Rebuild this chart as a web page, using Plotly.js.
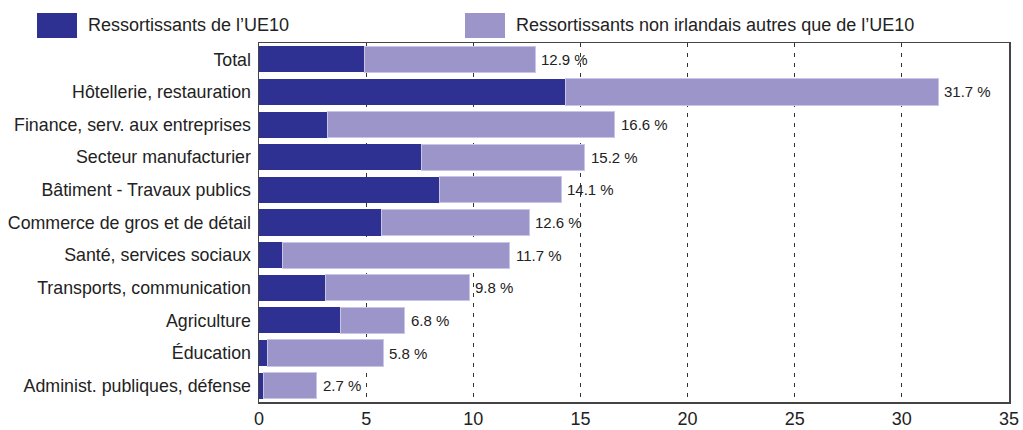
<!DOCTYPE html>
<html>
<head>
<meta charset="utf-8">
<script src="https://cdn.plot.ly/plotly-3.0.1.min.js"></script>
<style>html,body{margin:0;padding:0;background:#fff}#chart{width:1023px;height:430px}</style>
</head>
<body>
<div id="chart"></div>
<script>
const categories = [
  "Total",
  "Hôtellerie, restauration",
  "Finance, serv. aux entreprises",
  "Secteur manufacturier",
  "Bâtiment - Travaux publics",
  "Commerce de gros et de détail",
  "Santé, services sociaux",
  "Transports, communication",
  "Agriculture",
  "Éducation",
  "Administ. publiques, défense"
];
const eu10 = [4.9, 14.3, 3.2, 7.6, 8.4, 5.7, 1.1, 3.1, 3.8, 0.4, 0.2];
const otherNonIrish = [8.0, 17.4, 13.4, 7.6, 5.7, 6.9, 10.6, 6.7, 3.0, 5.4, 2.5];
const totals = [12.9, 31.7, 16.6, 15.2, 14.1, 12.6, 11.7, 9.8, 6.8, 5.8, 2.7];
const totalLabels = ["12.9 %", "31.7 %", "16.6 %", "15.2 %", "14.1 %", "12.6 %", "11.7 %", "9.8 %", "6.8 %", "5.8 %", "2.7 %"];
const seriesNames = ["Ressortissants de l’UE10", "Ressortissants non irlandais autres que de l’UE10"];
const xTicks = [0, 5, 10, 15, 20, 25, 30, 35];

const darkColor = "#2e3192";
const lightColor = "#9b95c9";
const font = "Liberation Sans, Arial, Helvetica, sans-serif";

const traces = [
  {type: "bar", orientation: "h", name: seriesNames[0], y: categories, x: eu10,
   marker: {color: darkColor}, width: 0.8, hoverinfo: "x+y"},
  {type: "bar", orientation: "h", name: seriesNames[1], y: categories, x: otherNonIrish,
   marker: {color: lightColor, line: {color: "#c9c5e6", width: 1}}, width: 0.8, hoverinfo: "x+y"}
];

const valueAnnotations = categories.map((c, i) => ({
  xref: "x", yref: "y", x: totals[i], y: c, text: totalLabels[i],
  xanchor: "left", yanchor: "middle", xshift: 4, showarrow: false,
  font: {family: font, size: 15, color: "#222"}
}));

const layout = {
  width: 1023, height: 430,
  margin: {l: 259, r: 14, t: 43, b: 28},
  barmode: "stack",
  showlegend: false,
  paper_bgcolor: "#fff", plot_bgcolor: "#fff",
  font: {family: font, color: "#222"},
  xaxis: {
    range: [0, 35], tickvals: xTicks, ticktext: xTicks.map(String),
    showgrid: true, gridcolor: "#333", griddash: "4px,6px", gridwidth: 1,
    zeroline: false, showline: true, linecolor: "#444", linewidth: 1.5, mirror: true,
    ticks: "", tickfont: {family: font, size: 18, color: "#222"}, fixedrange: true
  },
  yaxis: {
    autorange: "reversed", showgrid: false, zeroline: false,
    showline: true, linecolor: "#444", linewidth: 1.5, mirror: true,
    ticks: "", ticklabelstandoff: 3, tickfont: {family: font, size: 17.8, color: "#222"}, fixedrange: true
  },
  shapes: [
    {type: "rect", xref: "paper", yref: "paper", x0: -222/750, x1: -182/750, y0: 1 + 5/359, y1: 1 + 30/359,
     fillcolor: darkColor, line: {width: 0}},
    {type: "rect", xref: "paper", yref: "paper", x0: 206/750, x1: 246/750, y0: 1 + 5/359, y1: 1 + 30/359,
     fillcolor: lightColor, line: {width: 0}}
  ],
  annotations: [
    {xref: "paper", yref: "paper", x: -173/750, y: 1 + 18/359, xanchor: "left", yanchor: "middle",
     text: seriesNames[0], showarrow: false, font: {family: font, size: 18, color: "#222"}},
    {xref: "paper", yref: "paper", x: 255/750, y: 1 + 18/359, xanchor: "left", yanchor: "middle",
     text: seriesNames[1], showarrow: false, font: {family: font, size: 18, color: "#222"}}
  ].concat(valueAnnotations)
};

Plotly.newPlot("chart", traces, layout, {displayModeBar: false, staticPlot: true});
</script>
</body>
</html>
